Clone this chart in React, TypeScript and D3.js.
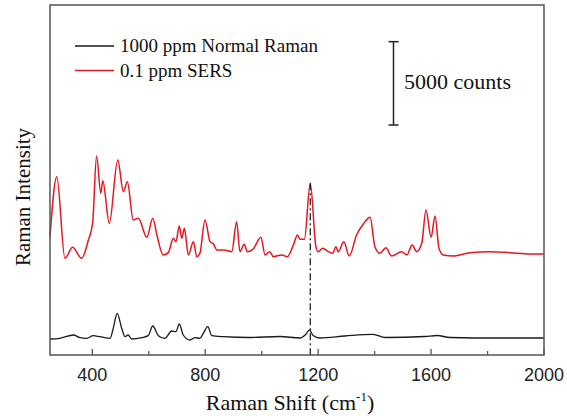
import React from 'react';
import * as d3 from 'd3';

// wavenumber (cm-1) / counts
const sersShift = [250, 274, 303, 330, 362, 386, 401, 415, 430, 437, 460, 490, 510, 524, 545, 563, 593, 614, 630, 651, 669, 687, 696, 708, 717, 726, 740, 758, 770, 781, 799, 817, 829, 841, 864, 894, 911, 923, 938, 949, 970, 997, 1012, 1029, 1041, 1071, 1091, 1112, 1127, 1136, 1151, 1172, 1192, 1200, 1216, 1236, 1251, 1263, 1271, 1291, 1310, 1336, 1360, 1384, 1401, 1419, 1440, 1460, 1496, 1514, 1533, 1549, 1567, 1582, 1600, 1614, 1628, 1643, 1679, 1738, 1809, 1880, 1950, 2000];
const sersCounts = [7100, 10700, 5800, 6460, 5800, 6900, 7920, 11940, 9700, 10460, 7900, 11700, 9800, 10400, 8100, 8200, 7060, 8200, 7100, 6000, 6140, 7000, 6800, 7740, 7000, 7600, 6000, 6800, 5900, 6100, 8100, 6800, 6660, 6300, 6300, 6200, 8000, 6200, 6640, 6200, 6360, 7060, 6000, 6200, 5900, 6000, 5900, 6600, 7200, 6940, 6940, 10300, 6500, 6200, 6400, 6200, 6100, 6500, 6200, 6800, 5940, 7200, 7860, 8260, 6500, 6100, 6440, 5940, 6200, 6000, 6600, 6200, 6700, 8700, 7060, 8340, 6400, 6000, 5940, 6140, 6200, 6140, 6060, 6060];

const normalShift = [250, 285, 333, 356, 380, 403, 427, 463, 474, 488, 504, 516, 527, 539, 575, 598, 614, 634, 657, 681, 696, 708, 722, 746, 764, 781, 793, 809, 823, 864, 958, 1065, 1136, 1157, 1169, 1182, 1206, 1295, 1394, 1437, 1578, 1621, 1667, 1844, 2000];
const normalCounts = [960, 1000, 1200, 1040, 1000, 1160, 1100, 1000, 1600, 2500, 1600, 1100, 1200, 960, 1040, 1160, 1740, 1160, 1000, 1440, 1400, 1860, 1200, 900, 1040, 1000, 1300, 1700, 1160, 1100, 1050, 1110, 1020, 1260, 1500, 1170, 1020, 1140, 1240, 1050, 1110, 1170, 1050, 1020, 1020];

const majorTicks = [400, 800, 1200, 1600, 2000];
const minorTicks = [600, 1000, 1400, 1800];
const markedShift = 1172;
const scaleBarCounts = [13800, 18800]; // 5000 counts

const W = 567, H = 416;
const left = 50, right = 544, top = 5, bottom = 355;
const serif = '"Liberation Serif", "Times New Roman", serif';
const sans = '"Liberation Sans", Arial, sans-serif';
const red = '#e8161e';

export default function App() {
  const x = d3.scaleLinear().domain([250, 2000]).range([left, right]);
  const y = d3.scaleLinear().domain([0, 21000]).range([bottom, top]);

  const line = d3.line<[number, number]>()
    .x(d => x(d[0]))
    .y(d => y(d[1]))
    .curve(d3.curveMonotoneX);

  const sers = line(sersShift.map((s, i) => [s, sersCounts[i]]) as [number, number][]);
  const normal = line(normalShift.map((s, i) => [s, normalCounts[i]]) as [number, number][]);
  const peakCounts = sersCounts[sersShift.indexOf(markedShift)];

  return (
    <div style={{ position: 'fixed', left: 0, top: 0 }}>
      <svg width={W} height={H} style={{ display: 'block', background: '#fff' }}>
        <path d={normal || ''} fill="none" stroke="#1a1a1a" strokeWidth={1.3} />
        <path d={sers || ''} fill="none" stroke={red} strokeWidth={1.5} />

        <line x1={x(markedShift)} x2={x(markedShift)} y1={y(peakCounts)} y2={bottom}
          stroke="#111" strokeWidth={1.2} strokeDasharray="7,3,2,3" />

        {/* frame */}
        <rect x={left} y={top} width={right - left} height={bottom - top}
          fill="none" stroke="#555" strokeWidth={1.5} />

        {majorTicks.map(t => (
          <g key={t}>
            <line x1={x(t)} x2={x(t)} y1={bottom} y2={bottom - 6} stroke="#555" strokeWidth={1.3} />
            <text x={x(t)} y={381} textAnchor="middle" fontFamily={sans} fontSize={18} fill="#222">{t}</text>
          </g>
        ))}
        {minorTicks.map(t => (
          <line key={t} x1={x(t)} x2={x(t)} y1={bottom} y2={bottom - 4} stroke="#555" strokeWidth={1.3} />
        ))}

        <text x={290} y={410} textAnchor="middle" fontFamily={serif} fontSize={22} fill="#111">
          Raman Shift (cm<tspan fontSize={13} dy={-9}>-1</tspan><tspan dy={9}>)</tspan>
        </text>
        <text transform="translate(30,197) rotate(-90)" textAnchor="middle" fontFamily={serif} fontSize={21} fill="#111">
          Raman Intensity
        </text>

        {/* legend */}
        <line x1={75} x2={114} y1={46} y2={46} stroke="#1a1a1a" strokeWidth={1.3} />
        <text x={120} y={52} fontFamily={serif} fontSize={19} fill="#111">1000 ppm Normal Raman</text>
        <line x1={75} x2={114} y1={70.5} y2={70.5} stroke={red} strokeWidth={1.5} />
        <text x={120} y={77} fontFamily={serif} fontSize={19} fill="#111">0.1 ppm SERS</text>

        {/* scale bar */}
        <g stroke="#222" strokeWidth={1.5}>
          <line x1={393.5} x2={393.5} y1={y(scaleBarCounts[0])} y2={y(scaleBarCounts[1])} />
          <line x1={388.5} x2={398.5} y1={y(scaleBarCounts[0])} y2={y(scaleBarCounts[0])} />
          <line x1={388.5} x2={398.5} y1={y(scaleBarCounts[1])} y2={y(scaleBarCounts[1])} />
        </g>
        <text x={404} y={89} fontFamily={serif} fontSize={22} fill="#111">5000 counts</text>
      </svg>
    </div>
  );
}
